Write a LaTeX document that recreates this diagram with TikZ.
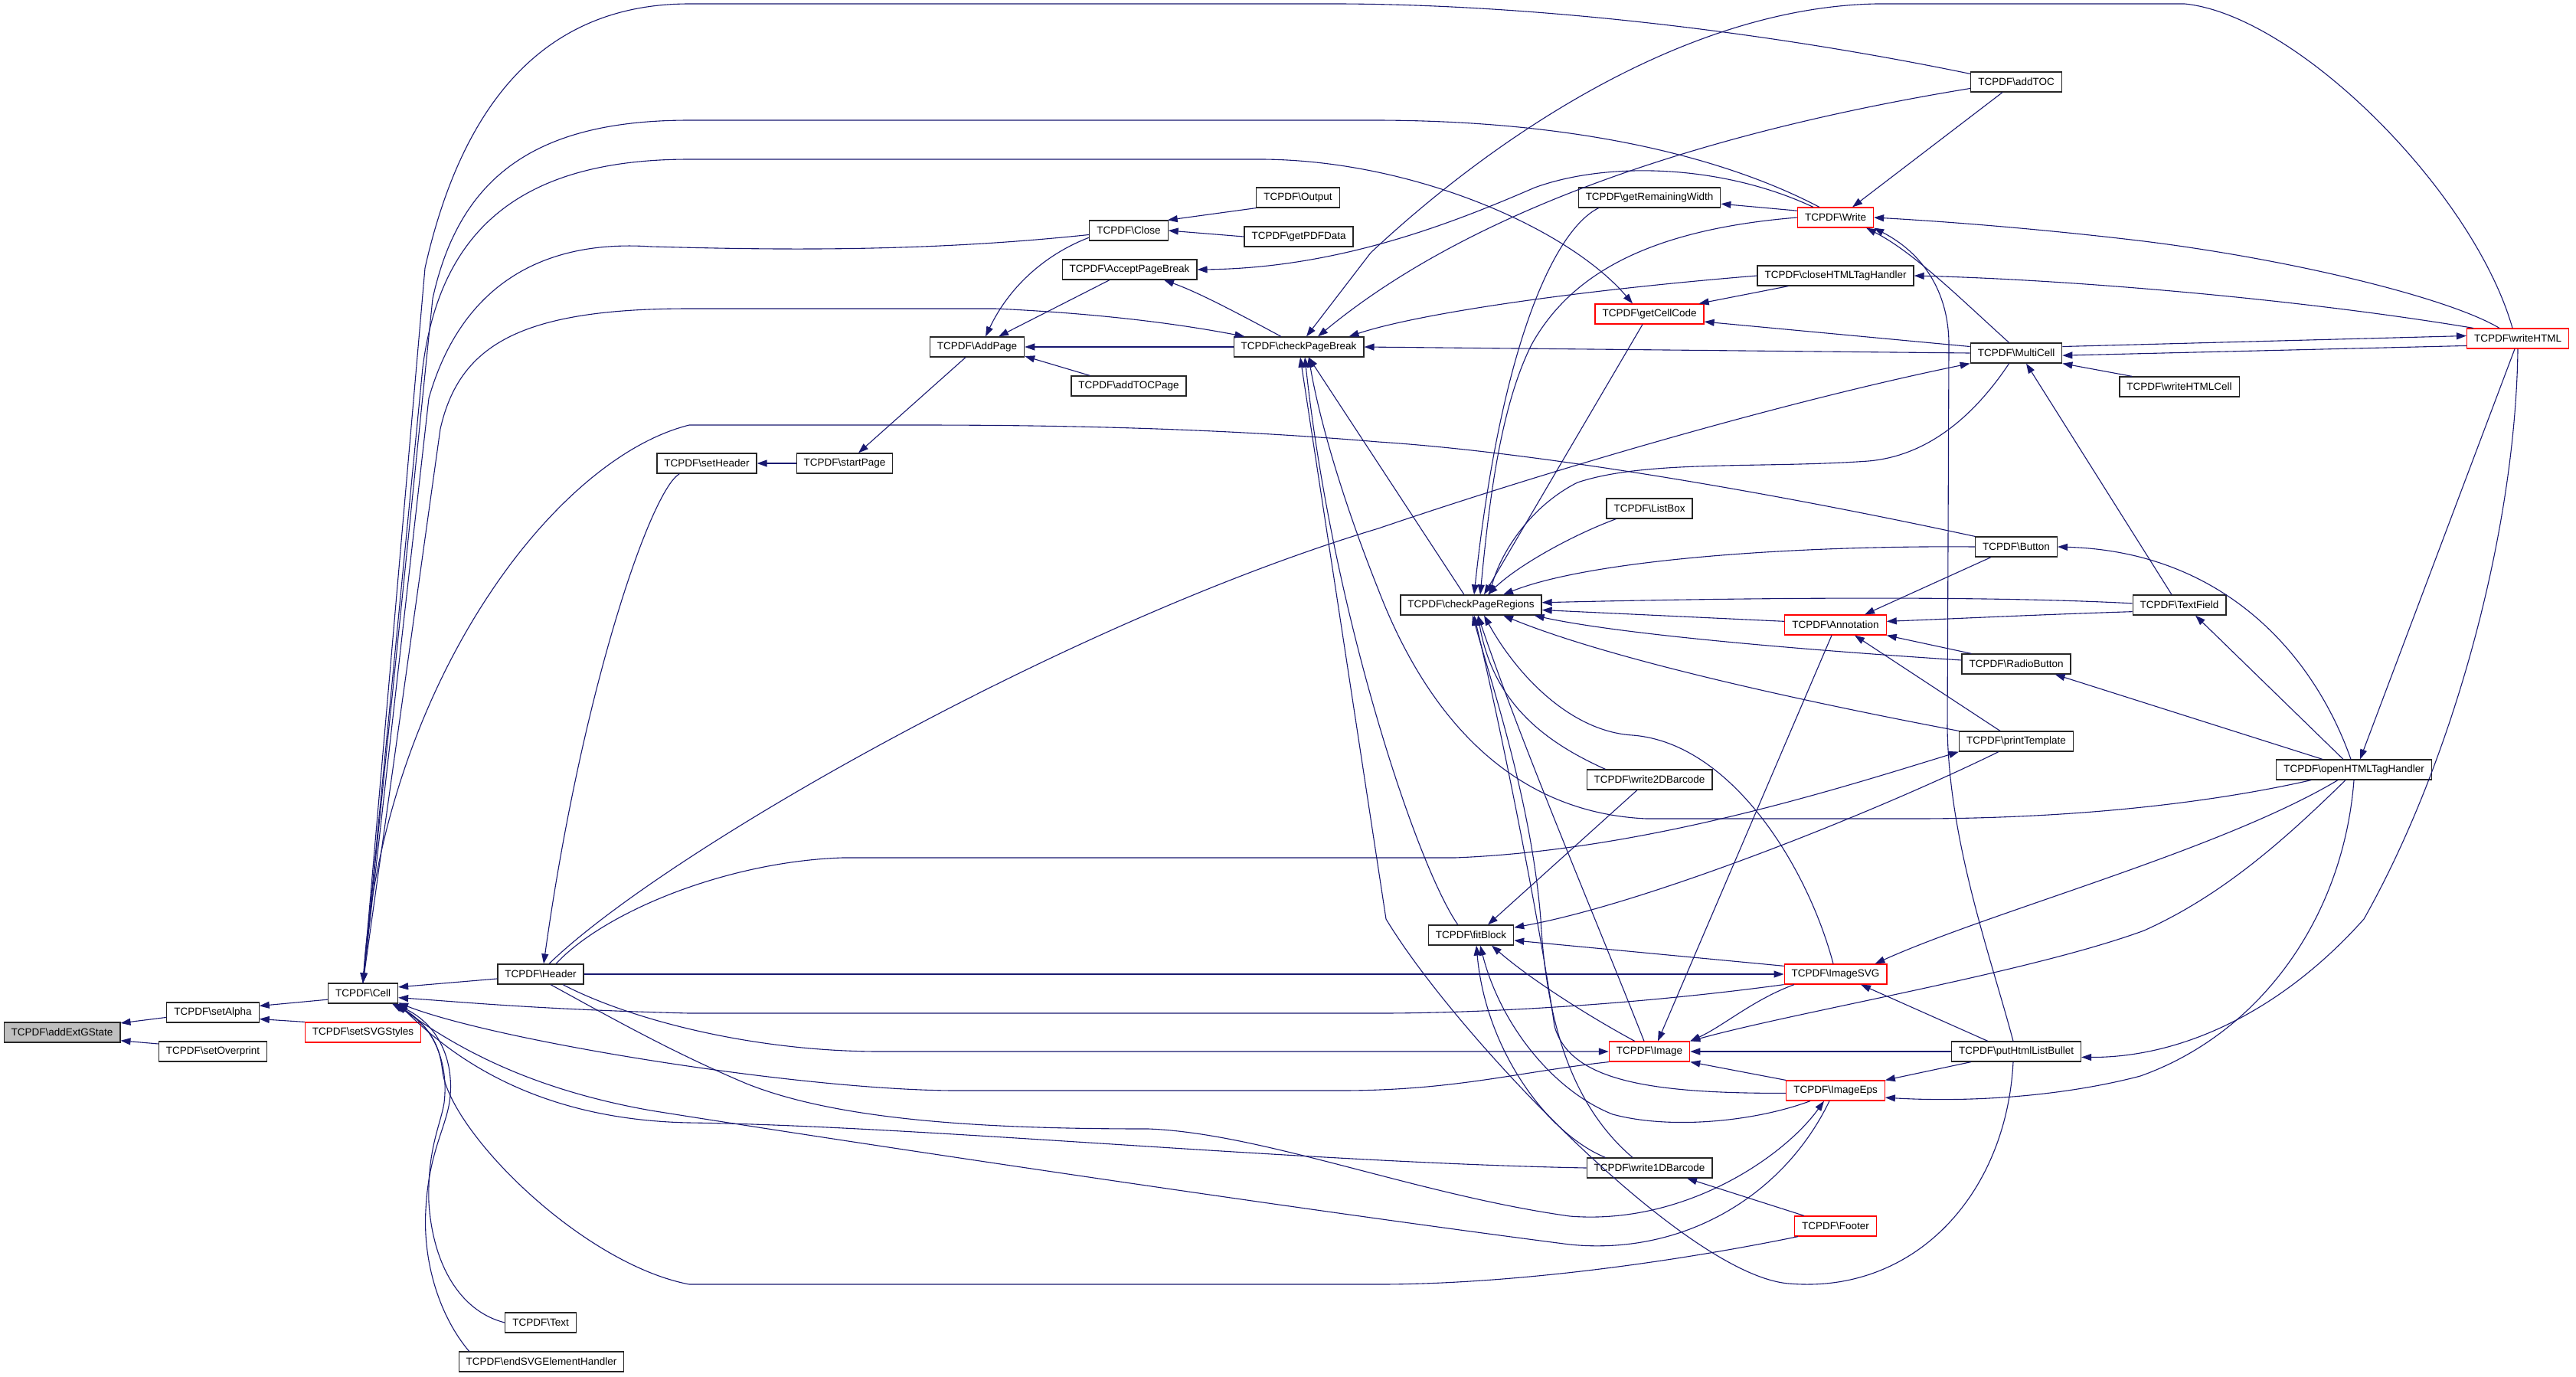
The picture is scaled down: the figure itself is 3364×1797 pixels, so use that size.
\documentclass[tikz,border=0pt]{standalone}
\usepackage{fontspec}
\setmainfont{Liberation Sans}
\usepackage{tikz}
\usetikzlibrary{arrows.meta}
\definecolor{edgeblue}{HTML}{191970}
\newcommand{\tcpdf}[1]{TCPDF\textbackslash #1}

\begin{document}
\begin{tikzpicture}[
			x=1pt, y=-1pt,
			node style/.style={
				draw=black!85,
				line width=1.2pt,
				fill=white,
				minimum height=26pt,
				inner xsep=9.5pt,
				inner ysep=0pt,
				font=\fontsize{13.5}{16}\selectfont
			},
			red node/.style={node style, draw=red},
			call/.style={->, draw=edgeblue, line width=1.1pt},
			>={Triangle[length=13pt,width=9pt]}
			]
			\useasboundingbox (0,0) rectangle (3364,1797);
			
			\node[node style, fill=gray!50] (addExtGState) at (81,1348) {\tcpdf{addExtGState}};
			\node[node style] (setAlpha) at (278,1322) {\tcpdf{setAlpha}};
			\node[node style] (setOverprint) at (278,1373) {\tcpdf{setOverprint}};
			\node[node style] (Cell) at (474,1297) {\tcpdf{Cell}};
			\node[red node] (setSVGStyles) at (474,1348) {\tcpdf{setSVGStyles}};
			\node[node style] (Header) at (706,1272) {\tcpdf{Header}};
			\node[node style] (Text) at (706,1727) {\tcpdf{Text}};
			\node[node style] (endSVGElementHandler) at (707,1778) {\tcpdf{endSVGElementHandler}};
			\node[node style] (setHeader) at (923,605) {\tcpdf{setHeader}};
			\node[node style] (startPage) at (1103,605) {\tcpdf{startPage}};
			\node[node style] (AddPage) at (1276,453) {\tcpdf{AddPage}};
			\node[node style] (Close) at (1474,301) {\tcpdf{Close}};
			\node[node style] (AcceptPageBreak) at (1475,352) {\tcpdf{AcceptPageBreak}};
			\node[node style] (addTOCPage) at (1474,504) {\tcpdf{addTOCPage}};
			\node[node style] (Output) at (1695,258) {\tcpdf{Output}};
			\node[node style] (getPDFData) at (1696,309) {\tcpdf{getPDFData}};
			\node[node style] (checkPageBreak) at (1696,453) {\tcpdf{checkPageBreak}};
			\node[node style] (checkPageRegions) at (1921,790) {\tcpdf{checkPageRegions}};
			\node[node style] (fitBlock) at (1921,1221) {\tcpdf{fitBlock}};
			\node[node style] (getRemainingWidth) at (2154,258) {\tcpdf{getRemainingWidth}};
			\node[red node] (getCellCode) at (2154,410) {\tcpdf{getCellCode}};
			\node[node style] (ListBox) at (2154,664) {\tcpdf{ListBox}};
			\node[node style] (write2DBarcode) at (2154,1018) {\tcpdf{write2DBarcode}};
			\node[red node] (Image) at (2154,1373) {\tcpdf{Image}};
			\node[node style] (write1DBarcode) at (2154,1525) {\tcpdf{write1DBarcode}};
			\node[red node] (Write) at (2397,284) {\tcpdf{Write}};
			\node[node style] (closeHTMLTagHandler) at (2397,360) {\tcpdf{closeHTMLTagHandler}};
			\node[red node] (Annotation) at (2397,816) {\tcpdf{Annotation}};
			\node[red node] (ImageSVG) at (2397,1272) {\tcpdf{ImageSVG}};
			\node[red node] (ImageEps) at (2397,1424) {\tcpdf{ImageEps}};
			\node[red node] (Footer) at (2397,1601) {\tcpdf{Footer}};
			\node[node style] (addTOC) at (2633,107) {\tcpdf{addTOC}};
			\node[node style] (MultiCell) at (2633,461) {\tcpdf{MultiCell}};
			\node[node style] (Button) at (2633,714) {\tcpdf{Button}};
			\node[node style] (RadioButton) at (2633,867) {\tcpdf{RadioButton}};
			\node[node style] (printTemplate) at (2633,968) {\tcpdf{printTemplate}};
			\node[node style] (putHtmlListBullet) at (2633,1373) {\tcpdf{putHtmlListBullet}};
			\node[node style] (writeHTMLCell) at (2846,505) {\tcpdf{writeHTMLCell}};
			\node[node style] (TextField) at (2846,790) {\tcpdf{TextField}};
			\node[node style] (openHTMLTagHandler) at (3074,1005) {\tcpdf{openHTMLTagHandler}};
			\node[red node] (writeHTML) at (3288,442) {\tcpdf{writeHTML}};
			
			% left end
			\draw[call] (setAlpha.186) -- (addExtGState.9);
			\draw[call] (setOverprint.172) -- (addExtGState.-8);
			\draw[call] (Cell.190) -- (setAlpha.8);
			\draw[call] (setSVGStyles.north west) -- (setAlpha.-8);
			\draw[call] (Header.186) -- (Cell.10);
			
			% long arcs over the top
			\draw[call] (addTOC.170) .. controls (2300,40) and (2000,6) .. (1750,5) -- (900,5) .. controls (700,5) and (600,150) .. (555,350) -- (Cell.north);
			\draw[call] ([xshift=29pt]Write.north west) .. controls (2280,220) and (2100,158) .. (1800,157) -- (900,157) .. controls (700,157) and (600,230) .. (565,390) -- (Cell.north);
			\draw[call] (Cell.north) -- (552,480) .. controls (575,300) and (680,208) .. (900,208) -- (1650,208) .. controls (1850,210) and (2050,300) .. ([xshift=-22pt]getCellCode.north);
			\draw[call] (Close.186) .. controls (1200,330) and (1000,326) .. (850,322) .. controls (700,312) and (600,380) .. (560,520) -- (Cell.north);
			\draw[call] (Cell.north) -- (575,560) .. controls (600,450) and (680,403) .. (900,403) -- (1300,403) .. controls (1450,410) and (1550,425) .. ([xshift=15pt]checkPageBreak.north west);
			\draw[call] (Button.north west) .. controls (2300,640) and (2000,590) .. (1800,577) .. controls (1600,560) and (1400,555) .. (1200,555) -- (900,555) .. controls (720,600) and (500,900) .. (Cell.north);
			
			% into Cell from the right and below
			\draw[call] (ImageSVG.south west) .. controls (2150,1310) and (1950,1323) .. (1800,1323) -- (900,1323) .. controls (700,1318) and (600,1308) .. (Cell.-7);
			\draw[call] (Image.south west) .. controls (1980,1400) and (1900,1424) .. (1750,1424) -- (1250,1424) .. controls (1050,1424) and (650,1360) .. (Cell.-15);
			\draw[call] (write1DBarcode.west) .. controls (1700,1518) and (1200,1470) .. (900,1466) .. controls (700,1462) and (590,1380) .. (Cell.south east);
			\draw[call] ([xshift=-8pt]ImageEps.south) .. controls (2330,1560) and (2200,1640) .. (2050,1625) .. controls (1700,1580) and (1100,1490) .. (850,1450) .. controls (680,1420) and (585,1360) .. ([xshift=-4pt]Cell.south east);
			\draw[call] ([xshift=5pt]Footer.south west) .. controls (2150,1655) and (1950,1677) .. (1800,1677) -- (900,1677) .. controls (760,1650) and (590,1480) .. (578,1400) .. controls (575,1370) and (565,1340) .. ([xshift=-8pt]Cell.south east);
			\draw[call] (Text.west) .. controls (600,1712) and (565,1650) .. (560,1570) .. controls (558,1500) and (575,1470) .. (580,1440) .. controls (586,1390) and (568,1340) .. ([xshift=-6pt]Cell.south east);
			\draw[call] ([xshift=14pt]endSVGElementHandler.north west) .. controls (575,1720) and (552,1650) .. (556,1580) .. controls (560,1500) and (585,1470) .. (588,1430) .. controls (592,1380) and (570,1335) .. ([xshift=-6pt]Cell.south east);
			
			% Header
			\draw[call] (Header.east) -- (ImageSVG.west);
			\draw[call] ([xshift=29pt]Header.south) .. controls (820,1330) and (980,1373) .. (1150,1373) -- (Image.west);
			\draw[call] ([xshift=13pt]Header.south) .. controls (800,1330) and (880,1375) .. (975,1415) .. controls (1100,1465) and (1300,1474) .. (1500,1474) .. controls (1650,1480) and (1850,1560) .. (2050,1588) .. controls (2200,1600) and (2330,1510) .. ([xshift=-15pt]ImageEps.south);
			\draw[call] ([xshift=11pt]Header.north) .. controls (870,1110) and (1400,810) .. (1800,690) .. controls (2050,605) and (2350,520) .. (MultiCell.south west);
			\draw[call] ([xshift=20pt]Header.north) .. controls (790,1190) and (950,1125) .. (1100,1120) -- (1900,1120) .. controls (2150,1110) and (2400,1030) .. (printTemplate.south west);
			\draw[call] ([xshift=30pt]setHeader.south west) .. controls (850,640) and (760,900) .. ([xshift=4pt]Header.north);
			
			% pages
			\draw[call] (startPage.west) -- (setHeader.east);
			\draw[call] ([xshift=-15pt]AddPage.south) -- ([xshift=18pt]startPage.north);
			\draw[call] (Close.190) .. controls (1370,330) and (1320,370) .. ([xshift=11pt]AddPage.north);
			\draw[call] ([xshift=-26pt]AcceptPageBreak.south) -- ([xshift=28pt]AddPage.north);
			\draw[call] (checkPageBreak.west) -- (AddPage.east);
			\draw[call] ([xshift=25pt]addTOCPage.north west) -- (AddPage.-11);
			\draw[call] (Output.south west) -- (Close.15);
			\draw[call] (getPDFData.west) -- (Close.east);
			\draw[call] ([xshift=-23pt]checkPageBreak.north) .. controls (1600,400) and (1560,380) .. ([xshift=45pt]AcceptPageBreak.south);
			\draw[call] ([xshift=21pt]Write.north west) .. controls (2250,215) and (2100,210) .. (2004,245) .. controls (1900,290) and (1750,350) .. (AcceptPageBreak.east);
			\draw[call] ([xshift=-7pt]writeHTML.north) .. controls (3230,250) and (3000,20) .. (2853,5) -- (2450,5) .. controls (2200,10) and (1950,180) .. (1790,330) -- ([xshift=10pt]checkPageBreak.north);
			\draw[call] (addTOC.188) .. controls (2300,160) and (1950,250) .. ([xshift=25pt]checkPageBreak.north);
			\draw[call] (closeHTMLTagHandler.west) .. controls (2050,380) and (1850,410) .. ([xshift=-20pt]checkPageBreak.north east);
			\draw[call] (MultiCell.west) -- (checkPageBreak.east);
			\draw[call] ([xshift=41pt]closeHTMLTagHandler.south west) -- ([xshift=-7pt]getCellCode.north east);
			\draw[call] (MultiCell.172) -- (getCellCode.-8);
			\draw[call] ([xshift=-9pt]getCellCode.south) -- ([xshift=17pt]checkPageRegions.north);
			
			% Write
			\draw[call] (Write.170) -- (getRemainingWidth.-5);
			\draw[call] ([xshift=27pt]getRemainingWidth.south west) .. controls (2030,300) and (1960,450) .. ([xshift=4pt]checkPageRegions.north);
			\draw[call] (Write.west) .. controls (2150,300) and (2050,360) .. (2000,450) .. controls (1960,530) and (1945,650) .. ([xshift=12pt]checkPageRegions.north);
			\draw[call] ([xshift=43pt]writeHTML.north west) .. controls (3200,390) and (3000,340) .. (2800,315) .. controls (2650,297) and (2520,288) .. (Write.east);
			\draw[call] ([xshift=9pt]writeHTML.north west) .. controls (3000,390) and (2700,365) .. (closeHTMLTagHandler.east);
			\draw[call] ([xshift=-18pt]addTOC.south) -- ([xshift=-28pt]Write.north east);
			\draw[call] ([xshift=51pt]MultiCell.north west) .. controls (2560,390) and (2500,330) .. ([xshift=-10pt]Write.south east);
			\draw[call] ([xshift=-4pt]putHtmlListBullet.north) .. controls (2600,1250) and (2545,1100) .. (2543,950) -- (2545,450) .. controls (2545,380) and (2510,330) .. (Write.south east);
			
			% MultiCell and writeHTML
			\draw[call] (MultiCell.8) -- (writeHTML.177);
			\draw[call] (writeHTML.188) -- (MultiCell.-3);
			\draw[call] ([xshift=17pt]writeHTMLCell.north west) -- (MultiCell.south east);
			\draw[call] ([xshift=-10pt]TextField.north) -- ([xshift=13pt]MultiCell.south);
			\draw[call] ([xshift=-4pt]writeHTML.south) -- ([xshift=8pt]openHTMLTagHandler.north);
			\draw[call] (writeHTML.south) .. controls (3285,700) and (3200,1000) .. (3087,1200) .. controls (2980,1320) and (2850,1381) .. (putHtmlListBullet.-5);
			\draw[call] ([xshift=51pt]MultiCell.south west) .. controls (2580,540) and (2520,595) .. (2440,602) .. controls (2300,612) and (2150,600) .. (2060,630) .. controls (2000,660) and (1960,720) .. ([xshift=24pt]checkPageRegions.north);
			
			% openHTMLTagHandler
			\draw[call] ([xshift=-4pt]openHTMLTagHandler.north) .. controls (3020,850) and (2900,720) .. (Button.east);
			\draw[call] ([xshift=-14pt]openHTMLTagHandler.north) -- ([xshift=21pt]TextField.south);
			\draw[call] ([xshift=-41pt]openHTMLTagHandler.north) -- ([xshift=-21pt]RadioButton.south east);
			\draw[call] ([xshift=46pt]openHTMLTagHandler.south west) .. controls (2880,1050) and (2700,1069) .. (2500,1069) -- (2150,1069) .. controls (1950,1060) and (1850,900) .. (1800,770) .. controls (1760,670) and (1725,560) .. ([xshift=13pt]checkPageBreak.south);
			\draw[call] ([xshift=-21pt]openHTMLTagHandler.south) .. controls (2900,1110) and (2600,1190) .. ([xshift=-16pt]ImageSVG.north east);
			\draw[call] ([xshift=-11pt]openHTMLTagHandler.south) .. controls (2980,1100) and (2900,1170) .. (2800,1215) .. controls (2650,1270) and (2350,1320) .. (Image.north east);
			\draw[call] (openHTMLTagHandler.south) .. controls (3060,1200) and (2950,1350) .. (2795,1405) .. controls (2700,1430) and (2580,1440) .. (ImageEps.-8);
			
			% putHtmlListBullet
			\draw[call] ([xshift=48pt]putHtmlListBullet.north west) -- ([xshift=33pt]ImageSVG.south);
			\draw[call] (putHtmlListBullet.west) -- (Image.east);
			\draw[call] ([xshift=26pt]putHtmlListBullet.south west) -- (ImageEps.north east);
			\draw[call] ([xshift=-4pt]putHtmlListBullet.south) .. controls (2620,1560) and (2500,1690) .. (2336,1676) .. controls (2200,1665) and (1900,1350) .. (1810,1200) -- ([xshift=2pt]checkPageBreak.south);
			
			% fitBlock
			\draw[call] ([xshift=39pt]fitBlock.north west) .. controls (1850,1130) and (1740,800) .. ([xshift=8pt]checkPageBreak.south);
			\draw[call] ([xshift=-9pt]checkPageRegions.north) -- ([xshift=13pt]checkPageBreak.south);
			\draw[call] ([xshift=52pt]printTemplate.south west) .. controls (2450,1060) and (2150,1180) .. (fitBlock.10);
			\draw[call] ([xshift=-16pt]write2DBarcode.south) -- ([xshift=22pt]fitBlock.north);
			\draw[call] (ImageSVG.171) -- (fitBlock.-7);
			\draw[call] ([xshift=34pt]Image.north west) .. controls (2080,1330) and (2000,1280) .. ([xshift=27pt]fitBlock.south);
			\draw[call] ([xshift=25pt]write1DBarcode.north west) .. controls (2020,1480) and (1940,1370) .. ([xshift=7pt]fitBlock.south);
			\draw[call] ([xshift=-33pt]ImageEps.south) .. controls (2290,1465) and (2180,1475) .. (2106,1455) .. controls (2030,1425) and (1960,1340) .. ([xshift=12pt]fitBlock.south);
			
			% checkPageRegions
			\draw[call] ([xshift=13pt]ListBox.south west) .. controls (2050,700) and (1980,740) .. ([xshift=22pt]checkPageRegions.north);
			\draw[call] (Button.west) .. controls (2350,712) and (2080,730) .. ([xshift=42pt]checkPageRegions.north);
			\draw[call] (TextField.178) .. controls (2600,778) and (2300,780) .. (checkPageRegions.2);
			\draw[call] (Annotation.176) -- (checkPageRegions.-4);
			\draw[call] (RadioButton.176) .. controls (2300,845) and (2100,825) .. ([xshift=-10pt]checkPageRegions.south east);
			\draw[call] (printTemplate.north west) .. controls (2350,915) and (2100,860) .. ([xshift=42pt]checkPageRegions.south);
			\draw[call] ([xshift=25pt]write2DBarcode.north west) .. controls (2020,970) and (1950,920) .. ([xshift=9pt]checkPageRegions.south);
			\draw[call] ([xshift=-3pt]ImageSVG.north) .. controls (2360,1130) and (2260,970) .. (2132,960) .. controls (2050,955) and (1980,880) .. ([xshift=17pt]checkPageRegions.south);
			\draw[call] ([xshift=-7pt]Image.north) .. controls (2080,1190) and (1990,980) .. ([xshift=9pt]checkPageRegions.south);
			\draw[call] (ImageEps.183) .. controls (2150,1428) and (2050,1410) .. (2030,1340) .. controls (2010,1200) and (1960,950) .. ([xshift=4pt]checkPageRegions.south);
			\draw[call] ([xshift=-22pt]write1DBarcode.north) .. controls (2060,1450) and (2020,1350) .. (2012,1200) .. controls (2000,1050) and (1950,900) .. ([xshift=2pt]checkPageRegions.south);
			
			% Annotation and the images
			\draw[call] ([xshift=21pt]Button.south west) -- ([xshift=38pt]Annotation.north);
			\draw[call] (TextField.-172) .. controls (2650,803) and (2550,808) .. (Annotation.4);
			\draw[call] ([xshift=13pt]RadioButton.north west) -- (Annotation.south east);
			\draw[call] ([xshift=54pt]printTemplate.north west) -- ([xshift=25pt]Annotation.south);
			\draw[call] ([xshift=-5pt]Annotation.south) -- ([xshift=11pt]Image.north);
			\draw[call] ([xshift=-54pt]ImageSVG.south) .. controls (2290,1305) and (2250,1340) .. (Image.north east);
			\draw[call] (ImageEps.north west) -- (Image.south east);
			\draw[call] ([xshift=13pt]Footer.north west) -- ([xshift=49pt]write1DBarcode.south);
			
		\end{tikzpicture}
\end{document}
